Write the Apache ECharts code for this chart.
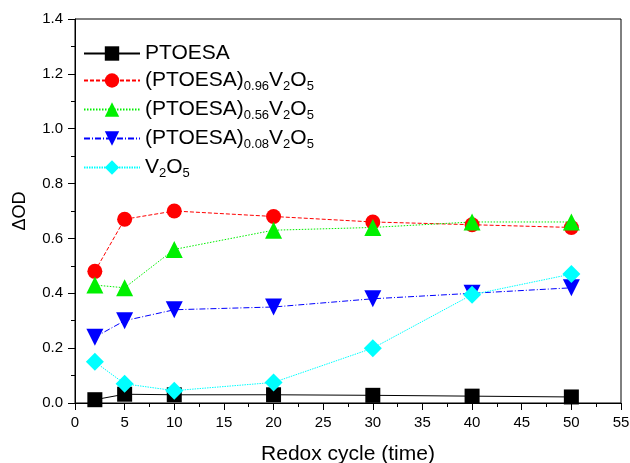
<!DOCTYPE html>
<html><head><meta charset="utf-8">
<script src="https://cdn.jsdelivr.net/npm/echarts@6/dist/echarts.min.js"></script>
<style>html,body{margin:0;padding:0;background:#fff}#c{width:630px;height:463px}</style>
</head><body><div id="c"></div>
<script>
const cycles = [2, 5, 10, 20, 30, 40, 50];
const ptoesa = [0.012, 0.032, 0.030, 0.030, 0.028, 0.025, 0.022];
const p096 = [0.48, 0.67, 0.70, 0.68, 0.66, 0.65, 0.64];
const p056 = [0.43, 0.42, 0.56, 0.63, 0.64, 0.66, 0.66];
const p008 = [0.24, 0.30, 0.34, 0.35, 0.38, 0.40, 0.42];
const v2o5 = [0.15, 0.07, 0.045, 0.075, 0.20, 0.395, 0.47];
const seriesNames = ['PTOESA', '(PTOESA)0.96V2O5', '(PTOESA)0.56V2O5', '(PTOESA)0.08V2O5', 'V2O5'];
const legendRich = {
  '0': '{n|PTOESA}',
  '1': '{n|(PTOESA)}{s|0.96}{n|V}{s|2}{n|O}{s|5}',
  '2': '{n|(PTOESA)}{s|0.56}{n|V}{s|2}{n|O}{s|5}',
  '3': '{n|(PTOESA)}{s|0.08}{n|V}{s|2}{n|O}{s|5}',
  '4': '{n|V}{s|2}{n|O}{s|5}'
};
const F = '"Liberation Sans", Arial, sans-serif';
function mk(name, data, color, type, symbol, size, rotate) {
  return {
    name: name, type: 'line',
    data: cycles.map((c, i) => [c, data[i]]),
    symbol: symbol, symbolSize: size, symbolRotate: rotate || 0,
    lineStyle: { color: color, width: 1, type: type },
    itemStyle: { color: color },
    emphasis: { disabled: true }
  };
}
const chart = echarts.init(document.getElementById('c'));
chart.setOption({
  animation: false,
  backgroundColor: '#fff',
  grid: { left: 75, right: 9, top: 19, bottom: 60, show: true, borderColor: '#000', borderWidth: 1, containLabel: false, outerBoundsMode: 'none' },
  legend: {
    orient: 'vertical', left: 80, top: 38, itemWidth: 56, itemHeight: 18, itemGap: 4, padding: [5, 5, 5, 3],
    data: seriesNames,
    formatter: function (n) { return legendRich[String(seriesNames.indexOf(n))]; },
    textStyle: {
      fontFamily: F, color: '#000',
      rich: {
        n: { fontSize: 21, fontFamily: F, color: '#000', lineHeight: 24 },
        s: { fontSize: 13, fontFamily: F, color: '#000', padding: [12, 0, 0, 0], lineHeight: 24 }
      }
    }
  },
  xAxis: {
    type: 'value', min: 0, max: 55, interval: 5,
    name: 'Redox cycle (time)', nameLocation: 'middle', nameGap: 41,
    nameTextStyle: { fontFamily: F, fontSize: 21, color: '#000' },
    axisLine: { show: true, onZero: false, lineStyle: { color: '#000', width: 1 } },
    axisTick: { show: true, inside: false, length: 7, lineStyle: { color: '#000' } },
    minorTick: { show: true, splitNumber: 2, length: 4, lineStyle: { color: '#000' } },
    axisLabel: { fontFamily: F, fontSize: 15, color: '#000', margin: 12 },
    splitLine: { show: false }
  },
  yAxis: {
    type: 'value', min: 0, max: 1.4, interval: 0.2,
    name: 'ΔOD', nameLocation: 'middle', nameGap: 46, nameRotate: 90,
    nameTextStyle: { fontFamily: F, fontSize: 18, color: '#000' },
    axisLine: { show: true, onZero: false, lineStyle: { color: '#000', width: 1 } },
    axisTick: { show: true, inside: false, length: 7, lineStyle: { color: '#000' } },
    minorTick: { show: true, splitNumber: 2, length: 4, lineStyle: { color: '#000' } },
    axisLabel: { fontFamily: F, fontSize: 15, color: '#000', margin: 12, formatter: v => v.toFixed(1) },
    splitLine: { show: false }
  },
  series: [
    mk(seriesNames[0], ptoesa, '#000000', 'solid', 'rect', 15),
    mk(seriesNames[1], p096, '#ff0000', [4, 2], 'circle', 15),
    mk(seriesNames[2], p056, '#00f000', [1.5, 1.5], 'triangle', 17),
    mk(seriesNames[3], p008, '#0000ff', [6, 2, 1, 2], 'triangle', 17, 180),
    mk(seriesNames[4], v2o5, '#00ffff', [1.5, 1], 'diamond', 18)
  ]
});
</script></body></html>
